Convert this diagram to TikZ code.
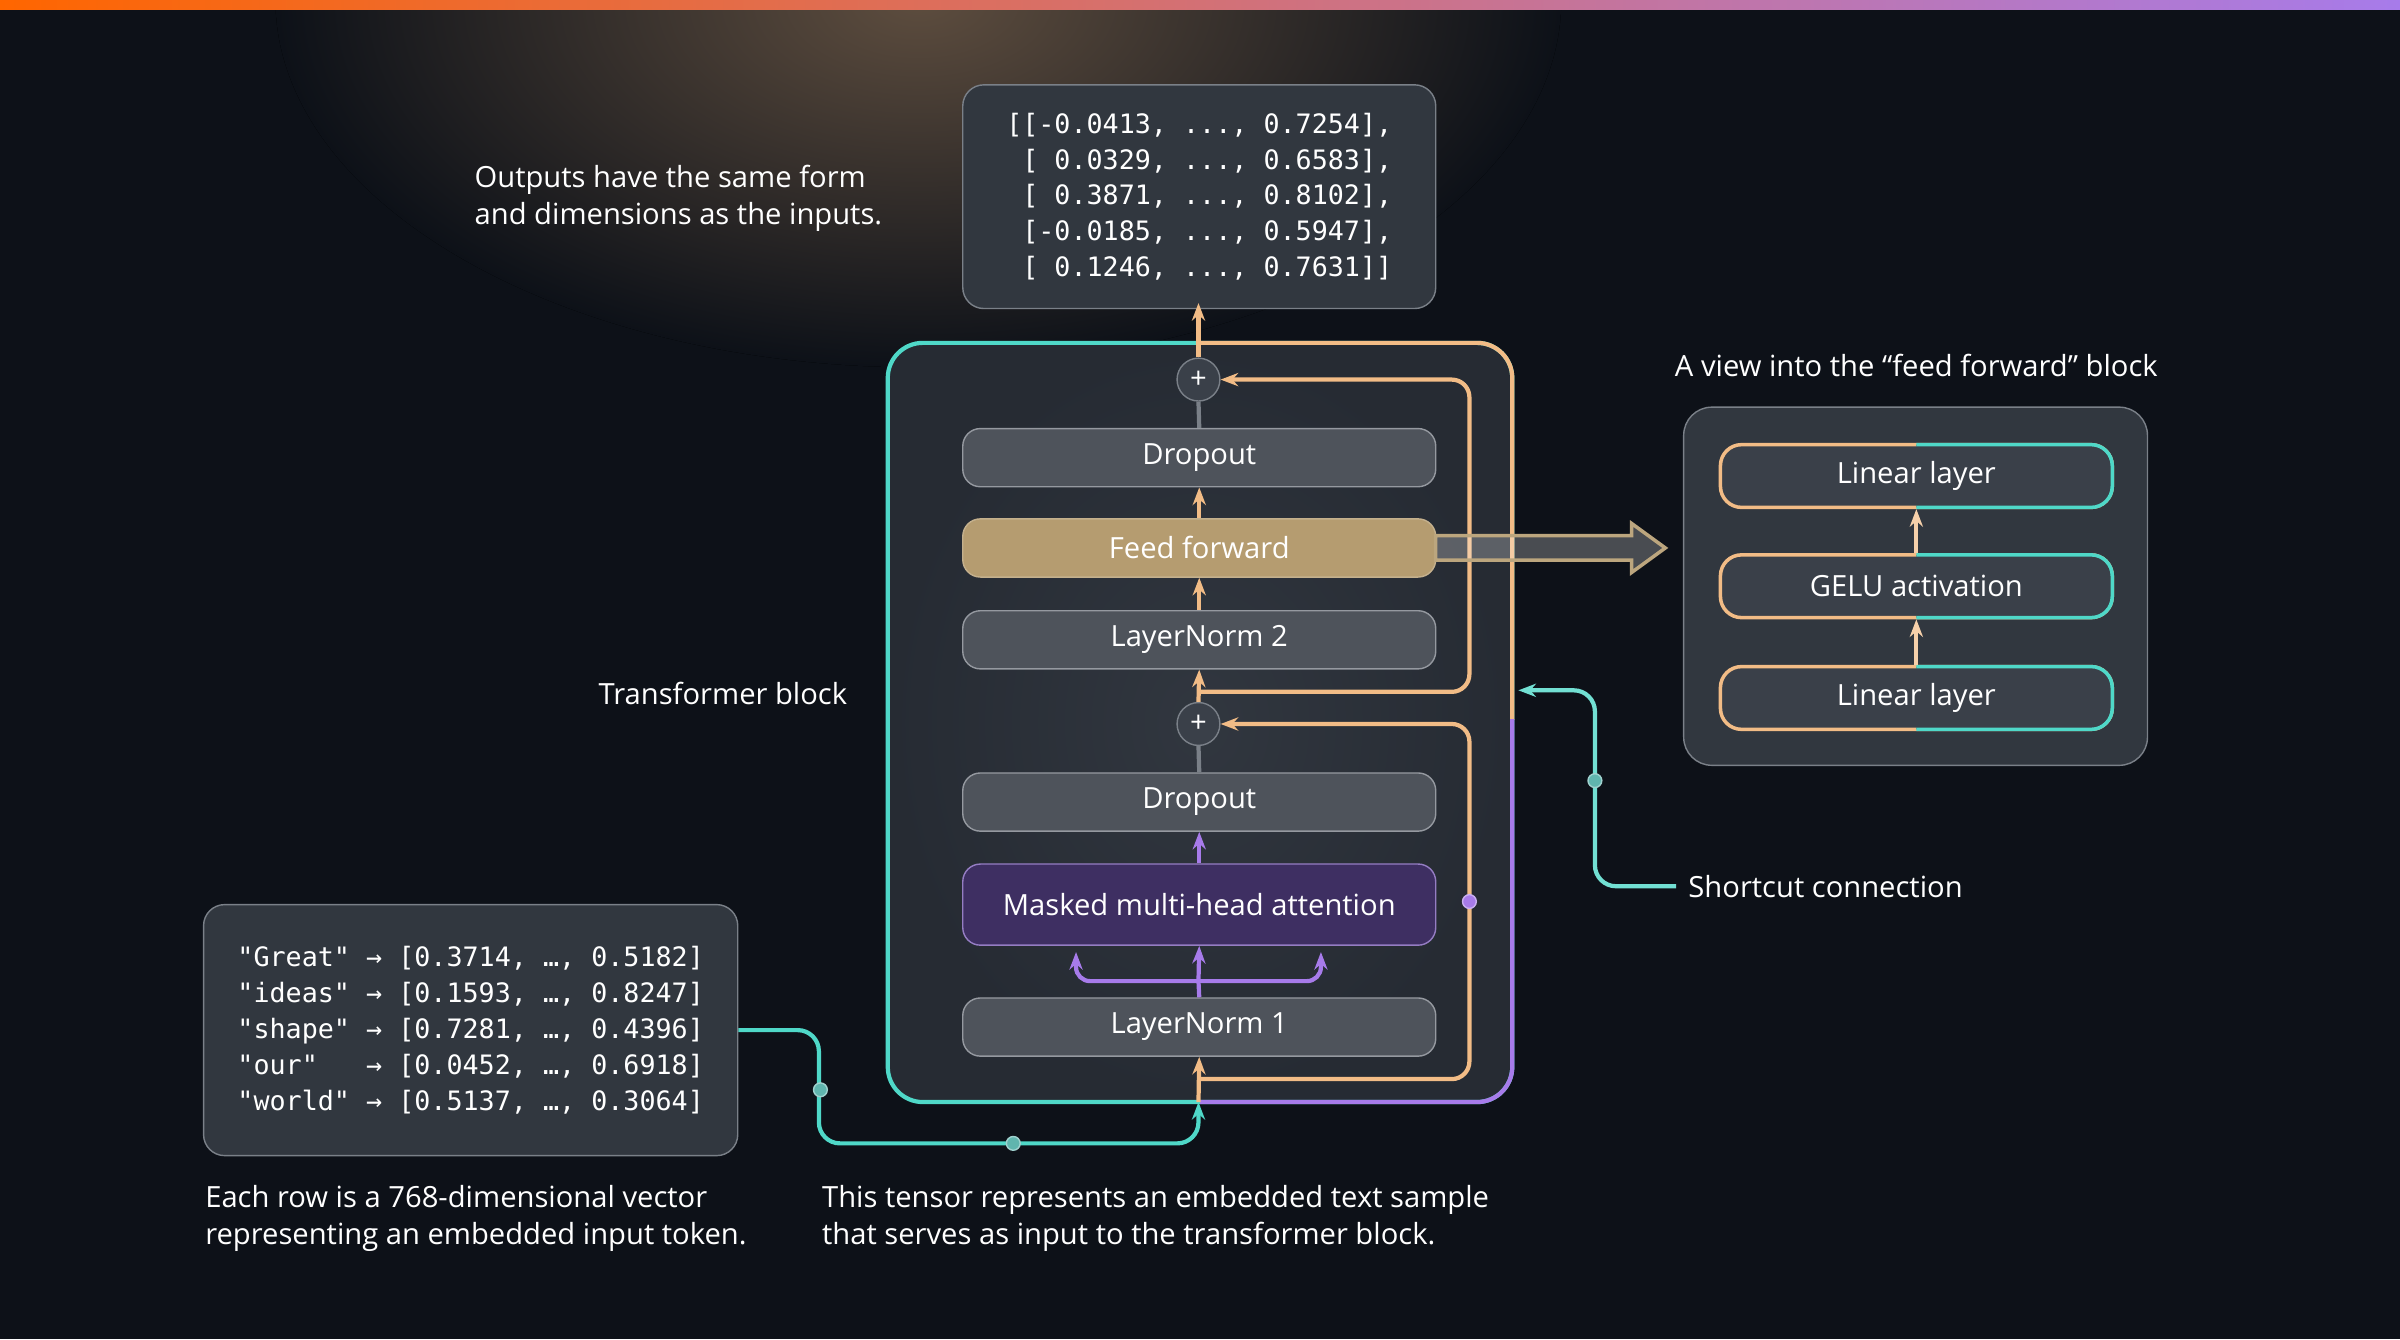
\documentclass[tikz,border=0pt]{standalone}
\usepackage{fontspec}
\setmainfont{Open Sans}
\setmonofont{DejaVu Sans Mono}
\usetikzlibrary{arrows.meta,shadings}
\definecolor{bg}{HTML}{0D1118}
\definecolor{boxfill}{HTML}{3A4049}
\definecolor{boxline}{HTML}{7A8088}
\definecolor{tealc}{HTML}{4FD8C8}
\definecolor{orangec}{HTML}{F2BC86}
\definecolor{purplec}{HTML}{A77BEA}
\definecolor{tanc}{HTML}{B59C70}
\definecolor{attn}{HTML}{3E2F62}
\newcommand{\txt}{\fontsize{8.3}{10.4}\selectfont}
\newcommand{\mono}{\ttfamily\fontsize{7.6}{10.2}\selectfont}
\tikzset{
  layer/.style={draw=boxline!80, fill=boxfill!90!white, rounded corners=5pt, minimum width=309*0.01531cm, minimum height=38*0.01531cm, text=white, font=\txt},
  ffbox/.style={draw=orangec, line width=1pt, fill=boxfill, rounded corners=6pt, minimum width=256*0.01531cm, minimum height=41*0.01531cm, text=white, font=\txt},
  data/.style={draw=boxline, fill=boxfill!80!bg, rounded corners=6pt, text=white, font=\mono, align=left, inner sep=8pt},
  note/.style={text=white, font=\txt, align=left, anchor=west},
  up/.style={-{Stealth[length=5pt]}, line width=1.2pt},
  res/.style={orangec, line width=1.2pt, rounded corners=5pt},
  plus/.style={circle, draw=boxline, fill=boxfill, text=white, inner sep=0pt, minimum size=28*0.01531cm, font=\txt},
  dot/.style={circle, fill=#1, draw=#1!60!white, minimum size=9*0.01531cm, inner sep=0pt},
}
\begin{document}
\begin{tikzpicture}[x=0.01531cm,y=-0.01531cm]
    % background and glow
    \fill[bg] (0,0) rectangle (1568,875);
    \useasboundingbox (0,0) rectangle (1568,875);
    \fill[inner color=orangec!35!bg, outer color=bg] (600,0) ellipse (420 and 240);
    \shade[left color=orange!80!red, right color=purplec] (0,0) rectangle (1568,6);
    % transformer block
    \fill[inner color=boxfill!80!bg, outer color=boxfill!55!bg, rounded corners=10pt] (580,224) rectangle (988,720);
    \draw[tealc, line width=1.2pt, rounded corners=10pt] (580,224) rectangle (988,720);
    \begin{scope}
      \clip (784,200) rectangle (1000,470);
      \draw[orangec, line width=1.2pt, rounded corners=10pt] (580,224) rectangle (988,720);
    \end{scope}
    \begin{scope}
      \clip (784,470) rectangle (1000,740);
      \draw[purplec, line width=1.2pt, rounded corners=10pt] (580,224) rectangle (988,720);
    \end{scope}
    % layers
    \node[layer] (drop2) at (783.5,299) {Dropout};
    \node[layer, fill=tanc, draw=tanc!80!white] (ff) at (783.5,358) {Feed forward};
    \node[layer] (ln2) at (783.5,418) {LayerNorm 2};
    \node[layer] (drop1) at (783.5,524) {Dropout};
    \node[layer, fill=attn, draw=purplec!60!boxline, minimum height=53*0.01531cm] (mha) at (783.5,591) {Masked multi-head attention};
    \node[layer] (ln1) at (783.5,671) {LayerNorm 1};
    \node[plus] (add2) at (783,248) {+};
    \node[plus] (add1) at (783,473) {+};
    % data boxes
    \node[data, minimum width=309*0.01531cm, minimum height=135*0.01531cm] (out) at (783.5,128.5) {[[-0.0413, ..., 0.7254],\\\ [ 0.0329, ..., 0.6583],\\\ [ 0.3871, ..., 0.8102],\\\ [-0.0185, ..., 0.5947],\\\ [ 0.1246, ..., 0.7631]]};
    \node[data, minimum width=349*0.01531cm, minimum height=164*0.01531cm] (inp) at (307.5,673) {"Great" → [0.3714, …, 0.5182]\\"ideas" → [0.1593, …, 0.8247]\\"shape" → [0.7281, …, 0.4396]\\"our"\ \ \ → [0.0452, …, 0.6918]\\"world" → [0.5137, …, 0.3064]};
    % main flow
    \coordinate (inTop) at (783,720);
    \coordinate (inBot) at (783,747);
    \coordinate (outTop) at (783,198);
    \draw[up, orangec] (inTop) -- (ln1.south);
    \draw[line width=1.2pt, purplec] (ln1.north) -- (783,641);
    \draw[up, purplec, rounded corners=4pt] (783,641) -- (703,641) -- (703,622);
    \draw[up, purplec, rounded corners=4pt] (783,641) -- (863,641) -- (863,622);
    \draw[up, purplec] (783,641) -- (mha.south);
    \draw[up, purplec] (mha.north) -- (drop1.south);
    \draw[line width=1.2pt, boxline] (drop1.north) -- (add1.south);
    \draw[up, orangec] (add1.north) -- (ln2.south);
    \draw[up, orangec] (ln2.north) -- (ff.south);
    \draw[up, orangec] (ff.north) -- (drop2.south);
    \draw[line width=1.2pt, boxline] (drop2.north) -- (add2.south);
    \draw[up, orangec] (add2.north) -- (outTop);
    % shortcuts
    \draw[res, -{Stealth[length=5pt]}] (783,705) -- (960,705) -- (960,473) -- (add1.east);
    \draw[res, -{Stealth[length=5pt]}] (783,452) -- (960,452) -- (960,248) -- (add2.east);
    \node[dot=purplec] (sdot) at (960,589) {};
    % input line
    \draw[up, tealc, rounded corners=6pt] (inp.east) -- (535,673) -- (535,747) -- (783,747) -- (inTop);
    \node[dot=tealc!60!boxline] (idot1) at (536,712) {};
    \node[dot=tealc!60!boxline] (idot2) at (662,747) {};
    % feed forward view
    \fill[white, draw=tanc!90!white, line width=1pt, fill opacity=0.25]
      (938,350) -- (1066,350) -- (1066,342) -- (1088,358) -- (1066,374) -- (1066,366) -- (938,366) -- cycle;
    \node[draw=boxline, fill=boxfill!80!bg, rounded corners=8pt, minimum width=303*0.01531cm, minimum height=234*0.01531cm] (ffview) at (1251.5,383) {};
    \node[ffbox] (lin2) at (1252,311) {Linear layer};
    \node[ffbox] (gelu) at (1252,383) {GELU activation};
    \node[ffbox] (lin1) at (1252,456) {Linear layer};
    \begin{scope}
      \clip (1252,280) rectangle (1400,490);
      \node[ffbox, draw=tealc] at (1252,311) {Linear layer};
      \node[ffbox, draw=tealc] at (1252,383) {GELU activation};
      \node[ffbox, draw=tealc] at (1252,456) {Linear layer};
    \end{scope}
    \draw[up, orangec!70!white] (lin1.north) -- (gelu.south);
    \draw[up, orangec!70!white] (gelu.north) -- (lin2.south);
    % labels
    \node[text=white, font=\txt] (fftitle) at (1252,239) {A view into the “feed forward” block};
    \node[note] (outnote) at (302,129.5) {Outputs have the same form\\and dimensions as the inputs.};
    \node[note] (tblock) at (383,453) {Transformer block};
    \node[note] (scnote) at (1095,579) {Shortcut connection};
    \node[note] (innote) at (126,796) {Each row is a 768-dimensional vector\\representing an embedded input token.};
    \node[note] (tnote) at (529,796) {This tensor represents an embedded text sample\\that serves as input to the transformer block.};
    \draw[tealc!80!white, line width=1.2pt, rounded corners=6pt, -{Stealth[length=5pt]}] (scnote.west) -- (1042,579) -- (1042,451) -- (992,451);
    \node[dot=tealc!60!boxline] (scdot) at (1042,510) {};
\end{tikzpicture}
\end{document}
